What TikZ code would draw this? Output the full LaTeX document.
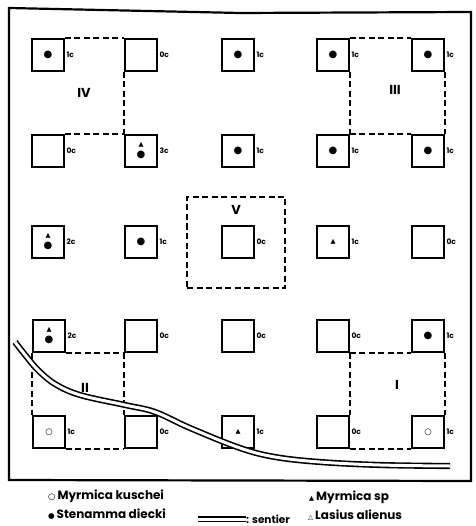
\documentclass[tikz,border=0pt]{standalone}
\usepackage{fontspec}
\setmainfont{Poppins}
\newfontfamily\symf{DejaVu Sans}
\usetikzlibrary{positioning}

\newcommand\dt{{\symf\fontsize{10}{10}\selectfont ●}}
\newcommand\od{{\symf\fontsize{8.5}{8.5}\selectfont ○}}
\newcommand\tr{{\symf\fontsize{6.5}{6.5}\selectfont ▲}}

\begin{document}
\begin{tikzpicture}[x=1pt,y=-1pt]
\tikzstyle{sq}=[draw,line width=1.7pt,minimum size=32,inner sep=0pt,align=center,font=\fontsize{9}{11}\selectfont]
\tikzstyle{cnt}=[font=\bfseries\fontsize{7.5}{8}\selectfont,inner sep=1.5pt]
\tikzstyle{dsh}=[line width=1.4pt,dash pattern=on 6pt off 3.5pt]
\tikzstyle{zone}=[font=\bfseries\fontsize{13}{13}\selectfont]
\tikzstyle{sentier}=[double,double distance=3pt,line width=1.6pt]
\tikzstyle{leg}=[anchor=west,font=\bfseries\fontsize{12}{13}\selectfont,inner sep=0pt]
\useasboundingbox (0,0) rectangle (475,526);
% frame
\draw[line width=2.2pt] (9,8) -- (240,13) -- (471,12) -- (471,481) -- (9,480) -- cycle;
% row 1
\node[sq,label={[cnt]east:1c}] (s11) at (48,55) {\dt};
\node[sq,label={[cnt]east:0c}] (s12) at (141,55) {};
\node[sq,label={[cnt]east:1c}] (s13) at (238,55) {\dt};
\node[sq,label={[cnt]east:1c}] (s14) at (333,55) {\dt};
\node[sq,label={[cnt]east:1c}] (s15) at (428,55) {\dt};
% row 2
\node[sq,label={[cnt]east:0c}] (s21) at (48,151) {};
\node[sq,label={[cnt]east:3c}] (s22) at (141,151) {\tr\\\dt};
\node[sq,label={[cnt]east:1c}] (s23) at (238,151) {\dt};
\node[sq,label={[cnt]east:1c}] (s24) at (333,151) {\dt};
\node[sq,label={[cnt]east:1c}] (s25) at (428,151) {\dt};
% row 3
\node[sq,label={[cnt]east:2c}] (s31) at (48,242) {\tr\\\dt};
\node[sq,label={[cnt]east:1c}] (s32) at (141,242) {\dt};
\node[sq,label={[cnt]east:0c}] (s33) at (238,242) {};
\node[sq,label={[cnt]east:1c}] (s34) at (333,242) {\tr};
\node[sq,label={[cnt]east:0c}] (s35) at (428,242) {};
% row 4
\node[sq,label={[cnt]east:2c}] (s41) at (49,336) {\tr\\\dt};
\node[sq,label={[cnt]east:0c}] (s42) at (141,336) {};
\node[sq,label={[cnt]east:0c}] (s43) at (238,336) {};
\node[sq,label={[cnt]east:0c}] (s44) at (333,336) {};
\node[sq,label={[cnt]east:1c}] (s45) at (428,336) {\dt};
% row 5
\node[sq,label={[cnt]east:1c}] (s51) at (49,432) {\od};
\node[sq,label={[cnt]east:0c}] (s52) at (141,432) {};
\node[sq,label={[cnt]east:1c}] (s53) at (238,432) {\tr};
\node[sq,label={[cnt]east:0c}] (s54) at (333,432) {};
\node[sq,label={[cnt]east:1c}] (s55) at (428,432) {\od};

% zones
\draw[dsh] (s11.north east) -- (s12.north west) (s12.south west) -- (s22.north west) (s21.north east) -- (s22.north west);
\node[zone] (z4) at (84,93) {IV};
\draw[dsh] (s14.north east) -- (s15.north west) (s14.south east) -- (s24.north east) (s15.south east) -- (s25.north east) (s24.north east) -- (s25.north west);
\node[zone] (z3) at (395,90) {III};
\node[draw,dsh,minimum width=98,minimum height=91] (v) at (236,242.5) {};
\node[zone] (z5) at (236,210) {V};
\draw[dsh] (s41.south west) -- (s51.north west) (s41.south east) -- (s42.south west) (s42.south west) -- (s52.north west) (s51.south east) -- (s52.south west);
\node[zone] (z2) at (85,388) {II};
\draw[dsh] (s44.south east) -- (s45.south west) (s44.south east) -- (s54.north east) (s45.south east) -- (s55.north east) (s54.south east) -- (s55.south west);
\node[zone] (z1) at (397,385) {I};

% path
\draw[sentier] plot[smooth,tension=0.6] coordinates {(15,342) (26,356) (38,370) (55,384) (80,395) (125,405) (155,412) (190,428) (240,448) (275,457) (320,462) (380,465) (450,466)};

% legend
\node[leg] (l1) at (48,496) {\od\,Myrmica kuschei};
\node[leg] (l2) at (48,514) {{\symf\fontsize{7.5}{7.5}\selectfont ●}\,Stenamma diecki};
\coordinate (la) at (198,519);
\coordinate (lb) at (246,519);
\draw[sentier] (la) -- (lb);
\node[leg,font=\bfseries\fontsize{10.5}{11}\selectfont] (l5) at (lb) {: sentier};
\node[leg] (l3) at (309,497) {\tr\,Myrmica sp};
\node[leg] (l4) at (308,515) {{\symf\fontsize{6.5}{6.5}\selectfont △}\,Lasius alienus};
\end{tikzpicture}
\end{document}
